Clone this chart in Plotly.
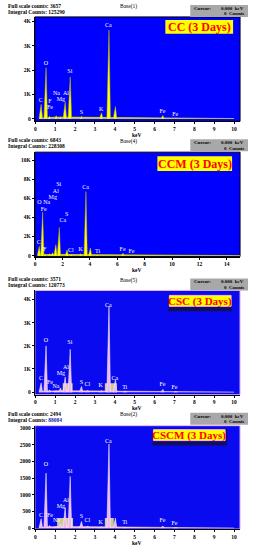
import plotly.graph_objects as go

W, H = 255, 550

# ---------------- data ----------------
# Panel 1 : CC (3 Days)
cc_energy = [0.277, 0.525, 0.705, 1.041, 1.254, 1.486, 1.740, 2.308, 3.314, 3.690, 4.013, 6.400, 7.058]
cc_counts = [590, 2100, 100, 120, 80, 680, 1720, 100, 240, 3650, 500, 130, 30]
cc_bg_energy = [0.2, 1, 2, 3, 4, 5, 6, 7, 8, 9, 10]
cc_bg_counts = [20, 60, 60, 55, 50, 40, 30, 25, 15, 10, 5]
cc_lab_text = ["C", "O", "F", "Fe", "Na", "Mg", "Al", "Si", "S", "K", "Ca", "Fe", "Fe"]
cc_lab_x = [0.28, 0.53, 0.74, 0.74, 1.07, 1.29, 1.54, 1.74, 2.32, 3.32, 3.67, 6.40, 7.04]
cc_lab_y = [750, 2290, 710, 450, 1050, 790, 1050, 1950, 260, 380, 3820, 290, 160]

# Panel 2 : CCM (3 Days)
ccm_energy = [0.277, 0.525, 0.705, 1.041, 1.254, 1.486, 1.740, 2.308, 2.622, 3.314, 3.690, 4.013, 4.510, 6.400, 7.058]
ccm_counts = [970, 4550, 200, 200, 300, 1150, 2950, 600, 150, 200, 6700, 800, 100, 250, 50]
ccm_bg_energy = [0.2, 1, 2, 3, 4, 5, 6, 8, 10, 12, 15]
ccm_bg_counts = [40, 120, 120, 110, 100, 80, 60, 30, 15, 10, 5]
ccm_lab_text = ["Si", "Al", "Mg", "O Na", "Fe", "S", "Ca", "Ca", "C", "F", "Cl", "K", "Ti", "Fe", "Fe"]
ccm_lab_x = [1.72, 1.51, 1.29, 0.63, 0.63, 2.31, 2.02, 3.69, 0.27, 0.70, 2.60, 3.33, 4.56, 6.39, 7.04]
ccm_lab_y = [7400, 6670, 6040, 5520, 4800, 4270, 3650, 7080, 1350, 630, 520, 630, 420, 630, 420]

# Panel 3 : CSC (3 Days)
csc_energy = [0.277, 0.525, 0.705, 1.041, 1.254, 1.486, 1.740, 2.308, 2.622, 3.314, 3.690, 4.013, 4.510, 6.400, 7.058]
csc_counts = [400, 2000, 100, 60, 180, 650, 1850, 250, 80, 70, 3700, 550, 40, 120, 30]
csc_bg_energy = [0.2, 1, 2, 3, 4, 5, 6, 7, 8, 9, 10]
csc_bg_counts = [20, 60, 60, 55, 50, 40, 30, 25, 15, 10, 5]
csc_roi_start = [1.38, 3.50]
csc_roi_end = [1.88, 4.10]
csc_roi_height = [390, 390]
csc_lab_text = ["C", "O", "Fe", "Na", "Mg", "Al", "Si", "S", "Cl", "K", "Ca", "Ca", "Ti", "Fe", "Fe"]
csc_lab_x = [0.29, 0.53, 0.74, 1.04, 1.29, 1.54, 1.74, 2.32, 2.62, 3.29, 3.67, 4.00, 4.50, 6.40, 7.00]
csc_lab_y = [570, 2210, 430, 240, 820, 1070, 2150, 430, 330, 280, 3760, 610, 210, 330, 210]

# Panel 4 : CSCM (3 Days)
cscm_energy = [0.277, 0.525, 0.705, 1.041, 1.254, 1.486, 1.740, 2.308, 2.622, 3.314, 3.690, 4.013, 4.510, 6.400, 7.058]
cscm_counts = [280, 1650, 80, 50, 120, 620, 1550, 200, 60, 40, 2520, 300, 20, 60, 15]
cscm_bg_energy = [0.2, 1, 2, 3, 4, 5, 6, 7, 8, 9, 10]
cscm_bg_counts = [15, 45, 45, 40, 35, 30, 22, 18, 12, 8, 4]
cscm_roi_start = [1.10, 3.50]
cscm_roi_end = [1.90, 3.95]
cscm_roi_height = [300, 300]
cscm_lab_text = ["C", "O", "Fe", "Na", "Mg", "Al", "Si", "S", "Cl", "K", "Ca", "Ti", "Fe", "Fe"]
cscm_lab_x = [0.29, 0.53, 0.74, 1.07, 1.29, 1.54, 1.74, 2.32, 2.62, 3.29, 3.67, 4.50, 6.40, 7.00]
cscm_lab_y = [370, 1910, 370, 220, 640, 815, 1710, 340, 220, 170, 2600, 170, 220, 150]

# header texts
full_scale = ["3657", "6843", "3571", "2494"]
integral = ["125290", "228308", "120773", "88084"]
base_names = ["Base(1)", "Base(4)", "Base(5)", "Base(2)"]
titles = ["CC (3 Days)", "CCM (3 Days)", "CSC (3 Days)", "CSCM (3 Days)"]

# tick labels
ytick_vals = [[0, 1000, 2000, 3000, 4000],
              [0, 2000, 4000, 6000, 8000, 10000],
              [0, 1000, 2000, 3000, 4000],
              [0, 500, 1000, 1500, 2000, 2500, 3000]]
ytick_text = [["0", "1K", "2K", "3K", "4K"],
              ["0", "2K", "4K", "6K", "8K", "10K"],
              ["0", "1K", "2K", "3K", "4K"],
              ["0", "500", "1000", "1500", "2000", "2500", "3000"]]
xtick_vals = [list(range(0, 11)), list(range(0, 15, 2)), list(range(0, 11)), list(range(0, 11))]

# ---------------- styling / geometry ----------------
FONT = "Liberation Serif"
panels = [
    dict(E=cc_energy, C=cc_counts, bgE=cc_bg_energy, bgC=cc_bg_counts, lt=cc_lab_text, lx=cc_lab_x, ly=cc_lab_y,
         roi=None, off=0, top=16, bot=121, xr=[-0.02, 10.3], yr=[-110, 4190], hw=0.09,
         fill="#ffff00", edge="#b8b800", bgfill="#ffff00", blue="#0000ff", pink=False,
         box=(165, 19, 233, 33), fs=12),
    dict(E=ccm_energy, C=ccm_counts, bgE=ccm_bg_energy, bgC=ccm_bg_counts, lt=ccm_lab_text, lx=ccm_lab_x, ly=ccm_lab_y,
         roi=None, off=135, top=17, bot=122, xr=[-0.02, 14.97], yr=[-100, 10830], hw=0.12,
         fill="#ffff00", edge="#b8b800", bgfill="#ffff00", blue="#0000ff", pink=False,
         box=(157, 21, 232, 36), fs=12),
    dict(E=csc_energy, C=csc_counts, bgE=csc_bg_energy, bgC=csc_bg_counts, lt=csc_lab_text, lx=csc_lab_x, ly=csc_lab_y,
         roi=(csc_roi_start, csc_roi_end, csc_roi_height), off=275, top=16, bot=121, xr=[-0.02, 10.3], yr=[-115, 4390], hw=0.09,
         fill="#f2b4f2", edge="#ffffff", bgfill="#f0c8f0", blue="#0a0af0", pink=True,
         box=(169, 21, 231, 32), nav=(168, 20, 232, 37), fs=11),
    dict(E=cscm_energy, C=cscm_counts, bgE=cscm_bg_energy, bgC=cscm_bg_counts, lt=cscm_lab_text, lx=cscm_lab_x, ly=cscm_lab_y,
         roi=(cscm_roi_start, cscm_roi_end, cscm_roi_height), off=410, top=17, bot=121, xr=[-0.02, 10.3], yr=[-30, 3070], hw=0.09,
         fill="#f2b4f2", edge="#ffffff", bgfill="#f0c8f0", blue="#0a0af0", pink=True,
         box=(153, 21, 225, 32), nav=(152, 20, 227, 37), fs=11),
]

def px(x):
    return x / W

def py(y):
    return 1 - y / H

fig = go.Figure()
shapes = []
annotations = []
layout = {}

for i, p in enumerate(panels):
    n = i + 1
    xa = "x" if n == 1 else f"x{n}"
    ya = "y" if n == 1 else f"y{n}"
    off = p["off"]

    # plot area background
    shapes.append(dict(type="rect", xref=f"{xa} domain", yref=f"{ya} domain", x0=0, x1=1, y0=0, y1=1,
                       fillcolor=p["blue"], line=dict(width=1, color="#f0b8f0" if p["pink"] else "#000000"),
                       layer="below"))

    # background continuum
    fig.add_trace(go.Scatter(x=p["bgE"], y=p["bgC"], mode="lines", fill="tozeroy",
                             line=dict(color=p["bgfill"], width=0.6), fillcolor=p["bgfill"],
                             xaxis=xa, yaxis=ya, hoverinfo="skip", showlegend=False))

    # ROI highlight regions
    if p["roi"] is not None:
        rs, re_, rh = p["roi"]
        fig.add_trace(go.Bar(x=[(a + b) / 2 for a, b in zip(rs, re_)], y=rh,
                             width=[b - a for a, b in zip(rs, re_)],
                             marker=dict(color="rgba(235,235,140,0.85)", line=dict(width=0)),
                             xaxis=xa, yaxis=ya, hoverinfo="skip", showlegend=False))

    # peaks as spikes built from (energy, counts)
    hw = p["hw"]
    xs, ys = [], []
    for e, c in zip(p["E"], p["C"]):
        xs += [e - hw, e - hw * 0.2, e + hw * 0.2, e + hw, None]
        ys += [0, c, c, 0, None]
    fig.add_trace(go.Scatter(x=xs, y=ys, mode="lines", fill="toself", fillcolor=p["fill"],
                             line=dict(color=p["edge"], width=0.5),
                             xaxis=xa, yaxis=ya, hoverinfo="skip", showlegend=False))

    # element labels
    fig.add_trace(go.Scatter(x=p["lx"], y=p["ly"], mode="text", text=p["lt"],
                             textfont=dict(family=FONT, size=6, color="white"),
                             xaxis=xa, yaxis=ya, hoverinfo="skip", showlegend=False))

    # axes
    key = "" if n == 1 else str(n)
    layout["xaxis" + key] = dict(domain=[34 / W, 240 / W], anchor=ya, range=p["xr"],
                                 tickvals=xtick_vals[i], ticks="outside", ticklen=2, tickwidth=1,
                                 tickcolor="black", showgrid=False, zeroline=False,
                                 showline=True, linecolor="black", linewidth=1,
                                 tickfont=dict(family=FONT, size=5.5, color="black", weight="bold"),
                                 fixedrange=True)
    layout["yaxis" + key] = dict(domain=[py(off + p["bot"]), py(off + p["top"])], anchor=xa, range=p["yr"],
                                 tickvals=ytick_vals[i], ticktext=ytick_text[i], ticks="outside",
                                 ticklen=2, tickwidth=1, tickcolor="black", showgrid=False,
                                 zeroline=False, showline=True, linecolor="black", linewidth=1,
                                 tickfont=dict(family=FONT, size=5.5, color="black", weight="bold"),
                                 fixedrange=True)

    # header text
    annotations.append(dict(xref="paper", yref="paper", x=px(5), y=py(off + 5), xanchor="left",
                            yanchor="middle", showarrow=False,
                            text=f"<b>Full scale counts: {full_scale[i]}</b>",
                            font=dict(family=FONT, size=5.5, color="black")))
    integ = f"<b>Integral Counts: <span style='color:#2020c0'>{integral[i]}</span></b>" if i == 3 \
        else f"<b>Integral Counts: {integral[i]}</b>"
    annotations.append(dict(xref="paper", yref="paper", x=px(5), y=py(off + 11), xanchor="left",
                            yanchor="middle", showarrow=False, text=integ,
                            font=dict(family=FONT, size=5.5, color="black")))
    annotations.append(dict(xref="paper", yref="paper", x=px(128), y=py(off + 6), xanchor="center",
                            yanchor="middle", showarrow=False, text=base_names[i],
                            font=dict(family=FONT, size=5.5, color="black")))
    # cursor box
    shapes.append(dict(type="rect", xref="paper", yref="paper", x0=px(190), x1=px(248),
                       y0=py(off + 16), y1=py(off + 4), fillcolor="#a8a8a8", line=dict(width=0)))
    annotations.append(dict(xref="paper", yref="paper", x=px(192), y=py(off + 7.5), xanchor="left",
                            yanchor="middle", showarrow=False, text="<b>Cursor:</b>",
                            font=dict(family=FONT, size=5, color="black")))
    annotations.append(dict(xref="paper", yref="paper", x=px(246), y=py(off + 7.5), xanchor="right",
                            yanchor="middle", showarrow=False, text="<b>0.000  keV</b>",
                            font=dict(family=FONT, size=5, color="black")))
    annotations.append(dict(xref="paper", yref="paper", x=px(246), y=py(off + 13), xanchor="right",
                            yanchor="middle", showarrow=False, text="<b>0  Counts</b>",
                            font=dict(family=FONT, size=5, color="black")))
    # keV label
    annotations.append(dict(xref="paper", yref="paper", x=px(137), y=py(off + p["bot"] + 13.5),
                            xanchor="center", yanchor="middle", showarrow=False, text="<b>keV</b>",
                            font=dict(family=FONT, size=5.5, color="black")))
    # title box
    bx0, by0, bx1, by1 = p["box"]
    if "nav" in p:
        nx0, ny0, nx1, ny1 = p["nav"]
        shapes.append(dict(type="rect", xref="paper", yref="paper", x0=px(nx0), x1=px(nx1),
                           y0=py(off + ny1), y1=py(off + ny0), fillcolor="#10105a", line=dict(width=0)))
        shapes.append(dict(type="rect", xref="paper", yref="paper", x0=px(bx0), x1=px(bx1),
                           y0=py(off + by1), y1=py(off + by0), fillcolor="#ffff00",
                           line=dict(width=1, color="#ffb0ff")))
    else:
        shapes.append(dict(type="rect", xref="paper", yref="paper", x0=px(bx0), x1=px(bx1),
                           y0=py(off + by1), y1=py(off + by0), fillcolor="#ffff00", line=dict(width=0)))
    annotations.append(dict(xref="paper", yref="paper", x=px((bx0 + bx1) / 2), y=py(off + (by0 + by1) / 2 + 0.5),
                            xanchor="center", yanchor="middle", showarrow=False,
                            text=f"<b>{titles[i]}</b>",
                            font=dict(family=FONT, size=p["fs"], color="#ff0000")))

fig.update_layout(width=W, height=H, margin=dict(l=0, r=0, t=0, b=0),
                  paper_bgcolor="white", plot_bgcolor="rgba(0,0,0,0)",
                  showlegend=False, shapes=shapes, annotations=annotations,
                  barmode="overlay", **layout)

fig.write_html("out.html", config={"displayModeBar": False},
               post_script="document.body.style.margin='0';document.body.style.padding='0';"
                           "document.body.style.overflow='hidden';")
